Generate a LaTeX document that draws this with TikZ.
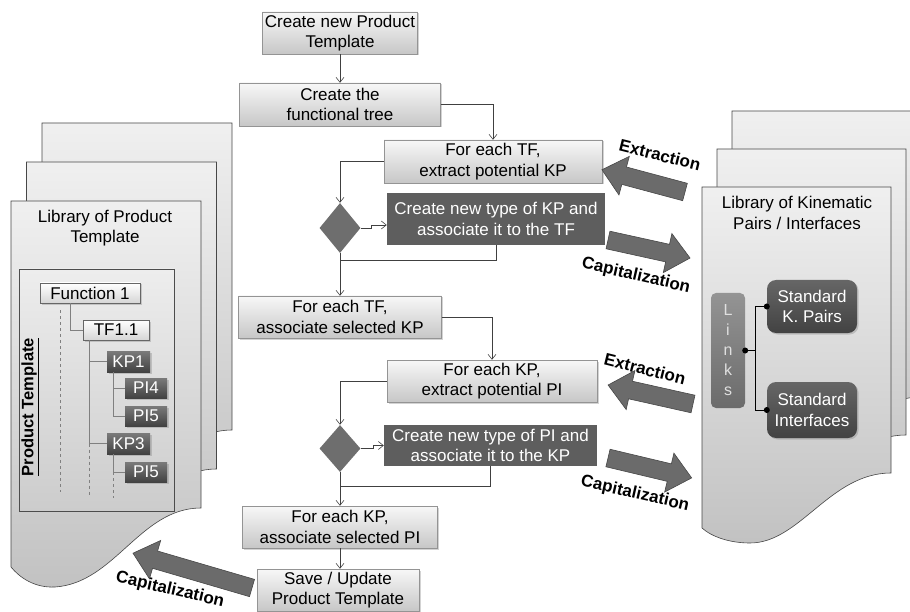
\documentclass[tikz,border=0pt]{standalone}
\usepackage{fontspec}
\setmainfont{Liberation Sans}
\usetikzlibrary{shapes.geometric,arrows.meta,shadows,calc}
\tikzset{
  pics/lpage/.style={code={\path[page] (0,0) -- (190,0) -- (190,307) .. controls (129,307) and (104,382) .. (44,386) .. controls (24,387) and (9,377) .. (0,366) -- cycle;}},
  pics/rpage/.style={code={\path[page] (0,0) -- (189,0) -- (189,286) .. controls (128,286) and (98,356) .. (48,356) .. controls (28,356) and (10,350) .. (0,341) -- cycle;}},
  pics/blkarr/.style={code={\path[blkfill] (0,-9) -- ({#1-23},-9) -- ({#1-23},-20) -- (#1,0) -- ({#1-23},20) -- ({#1-23},9) -- (0,9) -- cycle;}},
}
\begin{document}
\begin{tikzpicture}[x=1pt,y=-1pt,
  font=\fontsize{17}{20.5}\selectfont,
  line/.style={draw=black!75, line width=0.6pt},
  arr/.style={line, -{Straight Barb[length=5pt,width=8pt]}},
  tline/.style={draw=black!50, line width=0.6pt},
  shad/.style={drop shadow={shadow xshift=1.5pt,shadow yshift=-1.5pt,opacity=0.35}},
  lbox/.style={draw=black!42, top color=black!3, bottom color=black!22, inner sep=0pt, align=center, shad},
  dbox/.style={fill=black!63, text=white, inner sep=0pt, align=center},
  dia/.style={diamond, fill=black!57, inner sep=0pt},
  page/.style={draw=black!72, line width=0.6pt, top color=black!6, bottom color=black!24},
  blkfill/.style={fill=black!58, draw=black!72, line width=0.6pt},
  lbl/.style={font=\fontsize{17}{20}\selectfont\bfseries, inner sep=0pt},
  tl/.style={draw=black!60, top color=white, bottom color=black!16, inner sep=0pt, font=\fontsize{17}{18}\selectfont, shad},
  td/.style={top color=black!52, bottom color=black!74, text=white, inner sep=0pt, font=\fontsize{17}{18}\selectfont, shad},
  sbox/.style={rounded corners=9pt, top color=black!60, bottom color=black!74, text=white, inner sep=0pt, align=center, shad},
]
\useasboundingbox (0,0) rectangle (910,612);
\clip (0,0) rectangle (910,612);

% ---------- left library ----------
\pic at (42,123) {lpage};
\pic at (26.5,162) {lpage};
\pic at (11,201) {lpage};
\node[align=center, inner sep=0pt] (ltitle) at (105,228) {Library of Product\\Template};
\path[draw=black!70, line width=0.6pt, top color=black!7, bottom color=black!20] (19,269) rectangle (174,511);
\node[rotate=90, inner sep=0pt, font=\fontsize{16.5}{18}\selectfont\bfseries] (pt) at (30,407) {\underline{Product Template}};

\node[tl, minimum width=100pt, minimum height=20pt] (f1) at (90,293) {Function 1};
\node[tl, minimum width=66pt, minimum height=20pt] (tf) at (116,330) {TF1.1};
\node[td, minimum width=43pt, minimum height=21pt] (kp1) at (128.5,361.5) {KP1};
\node[td, minimum width=42pt, minimum height=20pt] (pi4) at (146,388) {PI4};
\node[td, minimum width=42pt, minimum height=20pt] (pi5a) at (146,416) {PI5};
\node[td, minimum width=43pt, minimum height=21pt] (kp3) at (128.5,443.5) {KP3};
\node[td, minimum width=42pt, minimum height=20pt] (pi5b) at (146,472) {PI5};

\coordinate (t0) at (60,310);
\coordinate (t0e) at (60,492);
\draw[tline, dashed] (t0) -- (t0e);
\draw[tline] ([xshift=-20pt]f1.south) |- (tf.west);
\draw[tline] ([xshift=-27pt]tf.south) |- (kp3.west);
\draw[tline] (kp1.west) -| ([xshift=-27pt]tf.south);
\coordinate (t1e) at (89,497);
\draw[tline, dashed] (89,443.5) -- (t1e);
\draw[tline] ([xshift=-15.5pt]kp1.south) |- (pi5a.west);
\draw[tline] (pi4.west) -| ([xshift=-15.5pt]kp1.south);
\draw[tline] ([xshift=-15.5pt]kp3.south) |- (pi5b.west);
\coordinate (t2e) at (113,498);
\draw[tline, dashed] (113,472) -- (t2e);

% ---------- right library ----------
\pic at (732,111) {rpage};
\pic at (717,149) {rpage};
\pic at (702,187) {rpage};
\node[align=center, inner sep=0pt] (rtitle) at (797,213) {Library of Kinematic\\Pairs / Interfaces};
\node[rounded corners=5pt, top color=black!42, bottom color=black!58, text=black!12, minimum width=34pt, minimum height=115pt, inner sep=0pt, align=center, font=\fontsize{16}{20}\selectfont] (lk) at (728,350.5) {L\\i\\n\\k\\s};
\node[sbox, minimum width=90pt, minimum height=53pt] (skp) at (812,306.5) {Standard\\K. Pairs};
\node[sbox, minimum width=90pt, minimum height=56pt] (sif) at (812,410) {Standard\\Interfaces};
\draw[line, draw=black] (skp.west) -| ($(lk.east)+(10,0)$) |- (sif.west);
\draw[line, draw=black] (lk.east) -- ++(10,0);
\fill (lk.east) circle (3pt) (skp.west) circle (3pt) (sif.west) circle (3pt);

% ---------- flow ----------
\node[lbox, minimum width=155pt, minimum height=42pt] (n1) at (340,33) {Create new Product\\Template};
\node[lbox, minimum width=201pt, minimum height=43pt] (n2) at (340,104.5) {Create the\\functional tree};
\node[lbox, minimum width=218pt, minimum height=43pt] (n3) at (493,161.5) {For each TF,\\extract potential KP};
\node[dia, minimum width=41pt, minimum height=50pt] (d1) at (340,228) {};
\node[dbox, minimum width=218pt, minimum height=52pt] (dk1) at (496,219) {Create new type of KP and\\associate it to the TF};
\node[lbox, minimum width=203pt, minimum height=42pt] (n4) at (340,317) {For each TF,\\associate selected KP};
\node[lbox, minimum width=210pt, minimum height=42pt] (n5) at (492,381) {For each KP,\\extract potential PI};
\node[dia, minimum width=41pt, minimum height=47pt] (d2) at (340,448.5) {};
\node[dbox, minimum width=213pt, minimum height=41pt] (dk2) at (490.5,445.5) {Create new type of PI and\\associate it to the KP};
\node[lbox, minimum width=195pt, minimum height=42pt] (n6) at (340,527) {For each KP,\\associate selected PI};
\node[lbox, minimum width=162pt, minimum height=42pt] (n7) at (338,590) {Save / Update\\Product Template};

\draw[arr] (n1.south) -- (n2.north);
\draw[arr] (n2.east) -| (n3.north);
\draw[arr] (n3.west) -| (d1.north);
\draw[arr] (d1.east) -- ++(11,0) |- ($(dk1.west)+(0,6)$);
\coordinate (j1) at (340,260);
\draw[line] (dk1.south) |- (j1);
\draw[arr] (d1.south) -- (n4.north);
\draw[arr] (n4.east) -| (n5.north);
\draw[arr] (n5.west) -| (d2.north);
\draw[arr] (d2.east) -- ++(13,0) |- (dk2.west);
\coordinate (j2) at (340,486);
\draw[line] (dk2.south) |- (j2);
\draw[arr] (d2.south) -- (n6.north);
\draw[arr] (n6.south) -- (n6.south |- n7.north);

% ---------- block arrows ----------
\pic[rotate=165] at (685,192) {blkarr=86};
\pic[rotate=-12.4] at (608,240) {blkarr=84};
\pic[rotate=167.4] at (693,404) {blkarr=87};
\pic[rotate=-13.4] at (608,458) {blkarr=86};
\pic[rotate=163.7] at (252,588) {blkarr=124};

\node[lbl, rotate=-14] (e1) at (660,155) {Extraction};
\node[lbl, rotate=-13] (c1) at (636,276) {Capitalization};
\node[lbl, rotate=-14] (e2) at (645,369) {Extraction};
\node[lbl, rotate=-13] (c2) at (635,494) {Capitalization};
\node[lbl, rotate=-13] (c3) at (170,590) {Capitalization};
\end{tikzpicture}
\end{document}
